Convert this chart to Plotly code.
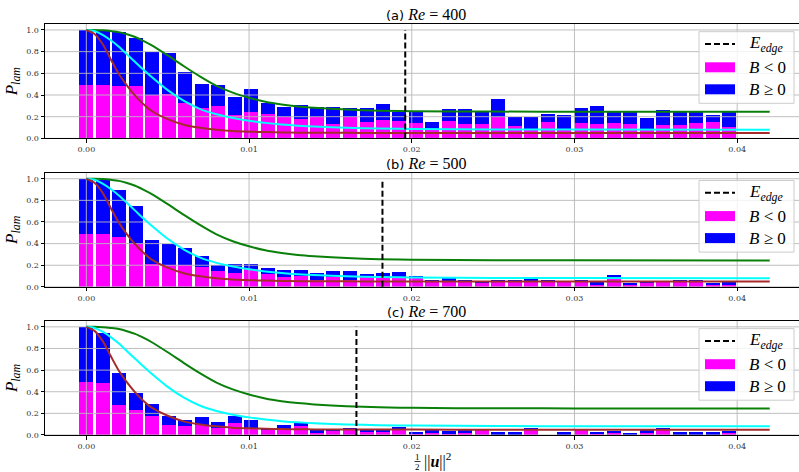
import plotly.graph_objects as go

# ---------------- data ----------------
BIN_CENTERS = [0.0, 0.00101, 0.00203, 0.00304, 0.00405, 0.00506, 0.00608, 0.00709,
               0.00810, 0.00912, 0.01013, 0.01114, 0.01215, 0.01317, 0.01418, 0.01519,
               0.01621, 0.01722, 0.01823, 0.01924, 0.02026, 0.02127, 0.02228, 0.02329,
               0.02431, 0.02532, 0.02633, 0.02735, 0.02836, 0.02937, 0.03038, 0.03140,
               0.03241, 0.03342, 0.03444, 0.03545, 0.03646, 0.03747, 0.03849, 0.03950]

PANEL_LABELS = ["(a)", "(b)", "(c)"]
RE_VALUES = [400, 500, 700]
E_EDGE = [0.0196, 0.0182, 0.0166]

# B < 0 part (magenta, bottom) and B >= 0 part (blue, stacked on top)
NEG_A = [0.49, 0.49, 0.483, 0.483, 0.40, 0.41, 0.326, 0.283, 0.298, 0.215,
         0.243, 0.225, 0.20, 0.175, 0.20, 0.132, 0.20, 0.15, 0.17, 0.16,
         0.14, 0.08, 0.16, 0.132, 0.132, 0.20, 0.114, 0.08, 0.15, 0.08,
         0.14, 0.132, 0.14, 0.132, 0.08, 0.123, 0.123, 0.14, 0.15, 0.105]
POS_A = [0.51, 0.50, 0.497, 0.443, 0.40, 0.378, 0.286, 0.222, 0.192, 0.165,
         0.212, 0.101, 0.09, 0.132, 0.086, 0.154, 0.08, 0.13, 0.147, 0.083,
         0.103, 0.07, 0.11, 0.138, 0.111, 0.163, 0.083, 0.117, 0.075, 0.135,
         0.14, 0.166, 0.103, 0.111, 0.108, 0.137, 0.12, 0.103, 0.065, 0.138]

NEG_B = [0.49, 0.49, 0.46, 0.40, 0.215, 0.206, 0.206, 0.19, 0.145, 0.126,
         0.166, 0.117, 0.09, 0.10, 0.07, 0.09, 0.07, 0.09, 0.08, 0.09,
         0.08, 0.043, 0.06, 0.052, 0.043, 0.052, 0.043, 0.06, 0.052, 0.06,
         0.052, 0.025, 0.08, 0.025, 0.043, 0.06, 0.052, 0.052, 0.015, 0.025]
POS_B = [0.51, 0.50, 0.44, 0.354, 0.225, 0.191, 0.151, 0.093, 0.055, 0.089,
         0.049, 0.055, 0.064, 0.054, 0.056, 0.055, 0.075, 0.027, 0.046, 0.045,
         0.02, 0.027, 0.02, 0.018, 0.017, 0.018, 0.027, 0.017, 0.018, 0.0,
         0.018, 0.018, 0.028, 0.009, 0.009, 0.0, 0.018, 0.018, 0.019, 0.018]

NEG_C = [0.495, 0.486, 0.274, 0.228, 0.18, 0.098, 0.08, 0.089, 0.07, 0.108,
         0.06, 0.052, 0.06, 0.08, 0.015, 0.043, 0.052, 0.034, 0.025, 0.065,
         0.006, 0.025, 0.006, 0.025, 0.043, 0.0, 0.0, 0.052, 0.0, 0.0,
         0.043, 0.015, 0.015, 0.0, 0.025, 0.052, 0.0, 0.0, 0.0, 0.025]
POS_C = [0.505, 0.454, 0.304, 0.157, 0.103, 0.082, 0.055, 0.074, 0.047, 0.064,
         0.075, 0.013, 0.029, 0.037, 0.028, 0.009, 0.018, 0.018, 0.027, 0.01,
         0.019, 0.018, 0.028, 0.018, 0.0, 0.025, 0.025, 0.008, 0.0, 0.025,
         0.0, 0.01, 0.019, 0.015, 0.018, 0.008, 0.025, 0.025, 0.025, 0.009]

# model curves (same in all three panels)
CURVE_X = [0.0, 0.0005, 0.001, 0.0015, 0.002, 0.0025, 0.003, 0.0035, 0.004, 0.005,
           0.006, 0.007, 0.008, 0.009, 0.010, 0.011, 0.012, 0.013, 0.014, 0.016,
           0.018, 0.020, 0.025, 0.030, 0.042]
GREEN_Y = [1.0, 1.0, 0.997, 0.99, 0.98, 0.96, 0.935, 0.90, 0.86, 0.765,
           0.665, 0.57, 0.485, 0.422, 0.375, 0.338, 0.313, 0.295, 0.283, 0.266,
           0.256, 0.251, 0.247, 0.246, 0.245]
CYAN_Y = [1.0, 0.99, 0.955, 0.905, 0.845, 0.775, 0.705, 0.635, 0.568, 0.445,
          0.345, 0.27, 0.222, 0.188, 0.163, 0.143, 0.128, 0.117, 0.109, 0.098,
          0.091, 0.087, 0.083, 0.081, 0.08]
BROWN_Y = [1.0, 0.963, 0.87, 0.73, 0.594, 0.486, 0.394, 0.317, 0.255, 0.178,
           0.126, 0.098, 0.08, 0.068, 0.062, 0.058, 0.055, 0.053, 0.052, 0.051,
           0.05, 0.05, 0.049, 0.049, 0.049]

X_TICKS = [0.0, 0.01, 0.02, 0.03, 0.04]
X_TICK_TEXT = ["0.00", "0.01", "0.02", "0.03", "0.04"]
Y_TICKS = [0.0, 0.2, 0.4, 0.6, 0.8, 1.0]
Y_TICK_TEXT = ["0.0", "0.2", "0.4", "0.6", "0.8", "1.0"]
X_RANGE = [-0.00254, 0.0438]
Y_RANGE = [0.0, 1.055]
EDGE_SPAN = [0.0, 1.0]

LEGEND_LABELS = ["<i>E</i><sub><i>edge</i></sub>", "<i>B</i> &lt; 0", "<i>B</i> ≥ 0"]

NEG = [NEG_A, NEG_B, NEG_C]
POS = [POS_A, POS_B, POS_C]

# ---------------- figure ----------------
W, H = 799, 472
ML, MR, MT, MB = 45, 0, 24, 37
PW, PH = W - ML - MR, H - MT - MB
DOMAINS = [[0.7217, 1.0], [0.3604, 0.638], [0.0, 0.2776]]

NEG_COLOR, POS_COLOR = "#ff00ff", "#0000ff"
EDGE_DASH = "6px,3px"


def px_x(px):
    return (px - ML) / PW


def px_y(py):
    return (H - MB - py) / PH


SERIF = "Liberation Serif"
TICKFONT = dict(family="DejaVu Serif", size=8, color="#333333")

fig = go.Figure()
annotations = []
shapes = []
for p in range(3):
    sfx = "" if p == 0 else str(p + 1)
    xa, ya = "x" + sfx, "y" + sfx

    fig.add_trace(go.Bar(x=BIN_CENTERS, y=NEG[p], width=0.00086, name="B < 0",
                         marker=dict(color=NEG_COLOR, line=dict(width=0)),
                         showlegend=False, hoverinfo="skip", xaxis=xa, yaxis=ya))
    fig.add_trace(go.Bar(x=BIN_CENTERS, y=POS[p], width=0.00086, name="B >= 0",
                         marker=dict(color=POS_COLOR, line=dict(width=0)),
                         showlegend=False, hoverinfo="skip", xaxis=xa, yaxis=ya))

    # grid drawn above bars, below lines (matplotlib style)
    gx, gy = [], []
    for yt in Y_TICKS:
        gx += [X_RANGE[0], X_RANGE[1], None]
        gy += [yt, yt, None]
    for xt in X_TICKS:
        gx += [xt, xt, None]
        gy += [Y_RANGE[0], Y_RANGE[1], None]
    fig.add_trace(go.Scatter(x=gx, y=gy, mode="lines",
                             line=dict(color="#b8b8b8", width=0.9),
                             showlegend=False, hoverinfo="skip", xaxis=xa, yaxis=ya))

    for cy, col in ((GREEN_Y, "#0a800a"), (CYAN_Y, "#00ffff"), (BROWN_Y, "#a52a2a")):
        fig.add_trace(go.Scatter(x=CURVE_X, y=cy, mode="lines",
                                 line=dict(color=col, width=2, shape="spline", smoothing=0.8),
                                 showlegend=False, hoverinfo="skip", xaxis=xa, yaxis=ya))

    fig.add_trace(go.Scatter(x=[E_EDGE[p], E_EDGE[p]], y=EDGE_SPAN, mode="lines",
                             line=dict(color="black", width=2, dash=EDGE_DASH),
                             name="E_edge", showlegend=False,
                             hoverinfo="skip", xaxis=xa, yaxis=ya))

    xaxis = dict(domain=[0, 1], anchor=ya, range=X_RANGE, tickvals=X_TICKS,
                 ticktext=X_TICK_TEXT, ticks="outside", ticklen=3.5, tickwidth=0.8,
                 tickcolor="black", showline=True, linecolor="black", linewidth=1,
                 mirror=True, showgrid=False, zeroline=False, tickfont=TICKFONT,
                 automargin=False)
    yaxis = dict(domain=DOMAINS[p], anchor=xa, range=Y_RANGE, tickvals=Y_TICKS,
                 ticktext=Y_TICK_TEXT, ticks="outside", ticklen=3.5, tickwidth=0.8,
                 tickcolor="black", showline=True, linecolor="black", linewidth=1,
                 showgrid=False, zeroline=False, tickfont=TICKFONT, automargin=False,
                 title=dict(text="<i>P</i><sub><i>lam</i></sub>",
                            font=dict(family=SERIF, size=17, color="black"), standoff=4))
    fig.update_layout(**{"xaxis" + sfx: xaxis, "yaxis" + sfx: yaxis})

    # panel title
    top = DOMAINS[p][1]
    annotations.append(dict(
        xref="paper", yref="paper", x=px_x(426), y=top, xanchor="center", yanchor="bottom",
        yshift=-1, showarrow=False,
        text=f"{PANEL_LABELS[p]} <span style='font-family:{SERIF};font-size:16px'><i>Re</i> = {RE_VALUES[p]}</span>",
        font=dict(family="DejaVu Sans", size=13, color="black")))

    # legend box (matplotlib style: 30x10 patches, dashed line handle)
    top_px = H - MB - top * PH
    shapes.append(dict(type="rect", xref="paper", yref="paper", layer="above",
                       x0=px_x(699), x1=px_x(794), y0=px_y(top_px + 7.7), y1=px_y(top_px + 79.3),
                       fillcolor="rgba(255,255,255,0.8)", line=dict(color="#cccccc", width=1)))
    rows = [top_px + 20, top_px + 43.3, top_px + 65.3]
    shapes.append(dict(type="line", xref="paper", yref="paper", layer="above",
                       x0=px_x(705), x1=px_x(735), y0=px_y(rows[0]), y1=px_y(rows[0]),
                       line=dict(color="black", width=2, dash=EDGE_DASH)))
    for r, col in ((rows[1], NEG_COLOR), (rows[2], POS_COLOR)):
        shapes.append(dict(type="rect", xref="paper", yref="paper", layer="above",
                           x0=px_x(705), x1=px_x(735), y0=px_y(r + 5), y1=px_y(r - 5),
                           fillcolor=col, line=dict(width=0)))
    for r, lab in zip(rows, LEGEND_LABELS):
        annotations.append(dict(xref="paper", yref="paper", x=px_x(747), y=px_y(r),
                                xanchor="left", yanchor="middle", showarrow=False,
                                text=lab, font=dict(family=SERIF, size=17, color="black")))

# x-axis label: ½||u||² with a stacked fraction
annotations.append(dict(xref="paper", yref="paper", x=px_x(417.5), y=px_y(456.5),
                        xanchor="center", yanchor="middle", showarrow=False,
                        text="1", font=dict(family=SERIF, size=9, color="black")))
annotations.append(dict(xref="paper", yref="paper", x=px_x(417.5), y=px_y(466.5),
                        xanchor="center", yanchor="middle", showarrow=False,
                        text="2", font=dict(family=SERIF, size=9, color="black")))
annotations.append(dict(xref="paper", yref="paper", x=px_x(422), y=px_y(461),
                        xanchor="left", yanchor="middle", showarrow=False,
                        text="||<b><i>u</i></b>||<sup>2</sup>",
                        font=dict(family=SERIF, size=16, color="black")))
shapes.append(dict(type="line", xref="paper", yref="paper",
                   x0=px_x(414.5), x1=px_x(420.5), y0=px_y(461.5), y1=px_y(461.5),
                   line=dict(color="black", width=0.8)))

fig.update_layout(width=W, height=H, margin=dict(l=ML, r=MR, t=MT, b=MB),
                  barmode="stack", bargap=0, plot_bgcolor="white", paper_bgcolor="white",
                  showlegend=False, annotations=annotations, shapes=shapes)

fig.write_html("out.html")
